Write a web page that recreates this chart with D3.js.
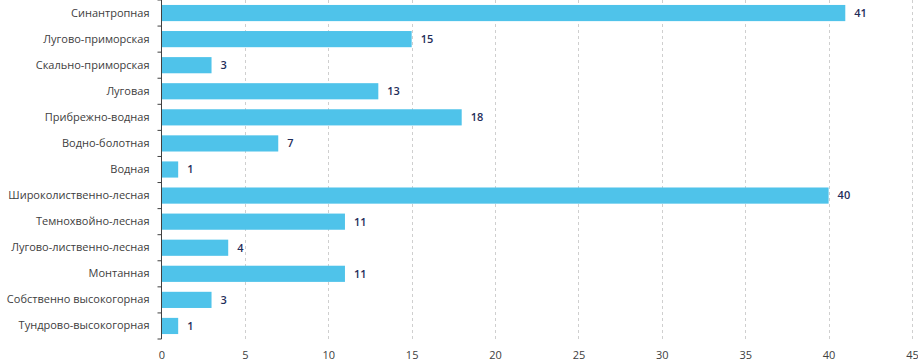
<!DOCTYPE html>
<html>
<head>
<meta charset="utf-8">
<script src="https://cdn.jsdelivr.net/npm/d3@7"></script>
<style>
  body { margin: 0; background: #fff; }
  .axis text { font-family: "Open Sans", sans-serif; font-size: 11px; fill: #404040; }
  .valLabel { font-family: "Open Sans", sans-serif; font-size: 11px; font-weight: 600; fill: #1f2d5a; }
</style>
</head>
<body>
<script>
// chart size
let w = 918, h = 362;
let padL = 161.5, padR = 912, padT = 0, padB = 339;

// data
let categories = [
  "Синантропная", "Лугово-приморская", "Скально-приморская", "Луговая",
  "Прибрежно-водная", "Водно-болотная", "Водная", "Широколиственно-лесная",
  "Темнохвойно-лесная", "Лугово-лиственно-лесная", "Монтанная",
  "Собственно высокогорная", "Тундрово-высокогорная"
];
let values = [41, 15, 3, 13, 18, 7, 1, 40, 11, 4, 11, 3, 1];
let xTicks = [0, 5, 10, 15, 20, 25, 30, 35, 40, 45];

let data = categories.map((c, i) => ({ name: c, value: values[i] }));

let svg = d3.select("body")
  .append("svg")
  .attr("width", w)
  .attr("height", h);

let xScale = d3.scaleLinear()
  .domain([0, 45])
  .range([padL, padR]);

let yScale = d3.scaleBand()
  .domain(categories)
  .range([padT, padB])
  .paddingInner(0.38)
  .paddingOuter(0.19);

// grid lines
svg.append("g")
  .selectAll("line")
  .data(xTicks.slice(1))
  .join("line")
  .attr("x1", d => Math.round(xScale(d)) + 0.5)
  .attr("x2", d => Math.round(xScale(d)) + 0.5)
  .attr("y1", padT)
  .attr("y2", padB)
  .attr("stroke", "#cfcfcf")
  .attr("stroke-dasharray", "3,3");

// bars
svg.append("g")
  .selectAll("rect")
  .data(data)
  .join("rect")
  .attr("x", xScale(0))
  .attr("y", d => yScale(d.name))
  .attr("width", d => xScale(d.value) - xScale(0))
  .attr("height", yScale.bandwidth())
  .attr("fill", "#4fc3ea");

// value labels
svg.append("g")
  .selectAll("text")
  .data(data)
  .join("text")
  .attr("class", "valLabel")
  .attr("x", d => xScale(d.value) + 9)
  .attr("y", d => yScale(d.name) + yScale.bandwidth() / 2)
  .attr("dy", "0.35em")
  .text(d => d.value);

// x axis (labels only)
let xAxis = d3.axisBottom(xScale)
  .tickValues(xTicks)
  .tickSize(0)
  .tickPadding(12);

svg.append("g")
  .attr("class", "axis")
  .attr("transform", "translate(0," + padB + ")")
  .call(xAxis)
  .call(g => g.select(".domain").remove());

// y axis
let yAxis = d3.axisLeft(yScale)
  .tickSize(0)
  .tickPadding(12);

let yG = svg.append("g")
  .attr("class", "axis")
  .attr("transform", "translate(" + padL + ",0)")
  .call(yAxis);
yG.select(".domain").remove();

// axis line and boundary ticks
let bounds = d3.range(categories.length + 1).map(i => padT + i * yScale.step());
yG.append("line")
  .attr("x1", 0).attr("x2", 0)
  .attr("y1", padT).attr("y2", padB)
  .attr("stroke", "#404040");
yG.selectAll(".bTick")
  .data(bounds)
  .join("line")
  .attr("class", "bTick")
  .attr("x1", -4).attr("x2", 0)
  .attr("y1", d => d).attr("y2", d => d)
  .attr("stroke", "#404040");
</script>
</body>
</html>
